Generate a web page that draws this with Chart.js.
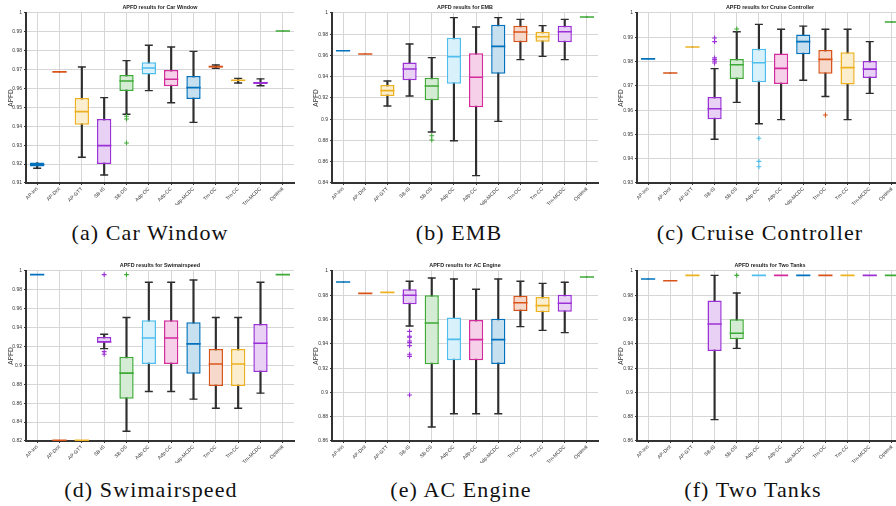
<!DOCTYPE html>
<html lang="en">
<head>
<meta charset="UTF-8">
<title>APFD results</title>
<script src="https://cdn.jsdelivr.net/npm/chart.js"></script>
<style>
    html, body { margin: 0; padding: 0; background: #fff; }
    body { width: 896px; height: 506px; position: relative; overflow: hidden; }
    .panel { position: absolute; width: 300px; height: 205px; }
    .caption {
        position: absolute;
        width: 300px;
        text-align: center;
        font-family: "Liberation Serif", "DejaVu Serif", serif;
        font-size: 22px;
        letter-spacing: 1.1px;
        color: #111;
    }
</style>
</head>
<body>
<div class="panel" style="left:0;top:0"><canvas id="chartA"></canvas></div>
<div class="panel" style="left:305px;top:0"><canvas id="chartB"></canvas></div>
<div class="panel" style="left:610px;top:0"><canvas id="chartC"></canvas></div>
<div class="panel" style="left:0;top:258px"><canvas id="chartD"></canvas></div>
<div class="panel" style="left:305px;top:258px"><canvas id="chartE"></canvas></div>
<div class="panel" style="left:610px;top:258px"><canvas id="chartF"></canvas></div>

<div class="caption" style="left:0;top:220px">(a) Car Window</div>
<div class="caption" style="left:309px;top:220px">(b) EMB</div>
<div class="caption" style="left:610px;top:220px">(c) Cruise Controller</div>
<div class="caption" style="left:1px;top:477px">(d) Swimairspeed</div>
<div class="caption" style="left:311px;top:477px">(e) AC Engine</div>
<div class="caption" style="left:603px;top:477px">(f) Two Tanks</div>

<script>
    const categories = ['AP-Ins', 'AP-Dist', 'AP-GTT', 'SB-IS', 'SB-OS', 'Adp-OC', 'Adp-CC', 'Adp-MCDC', 'Trn-OC', 'Trn-CC', 'Trn-MCDC', 'Optimal'];
    const catColors = ['#0072BD', '#D95319', '#EDB120', '#9B30D6', '#3DAA35', '#4DBEEE', '#D42A9C', '#0072BD', '#D95319', '#EDB120', '#9B30D6', '#3DAA35'];

    // Car Window
    const carWindowMin = [0.9178, 0.9688, 0.9236, 0.9142, 0.9464, 0.9589, 0.9525, 0.9421, 0.9707, 0.9629, 0.9615, 0.9905];
    const carWindowQ1  = [0.9187, 0.9688, 0.9409, 0.9201, 0.9587, 0.9675, 0.9612, 0.9545, 0.9711, 0.9638, 0.9624, 0.9905];
    const carWindowMed = [0.9197, 0.9688, 0.9478, 0.9298, 0.9640, 0.9709, 0.9649, 0.9605, 0.9716, 0.9644, 0.9631, 0.9905];
    const carWindowQ3  = [0.9208, 0.9688, 0.9550, 0.9439, 0.9672, 0.9739, 0.9698, 0.9667, 0.9721, 0.9647, 0.9636, 0.9905];
    const carWindowMax = [0.9208, 0.9688, 0.9714, 0.9552, 0.9748, 0.9829, 0.9820, 0.9797, 0.9725, 0.9654, 0.9651, 0.9905];
    const carWindowOut = [{x: 'SB-OS', y: 0.9453}, {x: 'SB-OS', y: 0.9439}, {x: 'SB-OS', y: 0.9312}];
    const carWindowTicks = [0.91, 0.92, 0.93, 0.94, 0.95, 0.96, 0.97, 0.98, 0.99, 1];

    // EMB
    const embMin = [0.9645, 0.9614, 0.9125, 0.9219, 0.8880, 0.8798, 0.8469, 0.8980, 0.9561, 0.9592, 0.9561, 0.9962];
    const embQ1  = [0.9645, 0.9614, 0.9219, 0.9366, 0.9178, 0.9335, 0.9112, 0.9429, 0.9724, 0.9730, 0.9724, 0.9962];
    const embMed = [0.9645, 0.9614, 0.9269, 0.9473, 0.9313, 0.9589, 0.9395, 0.9686, 0.9821, 0.9777, 0.9824, 0.9962];
    const embQ3  = [0.9645, 0.9614, 0.9322, 0.9533, 0.9391, 0.9768, 0.9620, 0.9890, 0.9881, 0.9824, 0.9881, 0.9962];
    const embMax = [0.9645, 0.9614, 0.9360, 0.9708, 0.9580, 0.9956, 0.9868, 0.9956, 0.9940, 0.9881, 0.9940, 0.9962];
    const embOut = [{x: 'SB-OS', y: 0.8845}, {x: 'SB-OS', y: 0.8805}];
    const embTicks = [0.84, 0.86, 0.88, 0.9, 0.92, 0.94, 0.96, 0.98, 1];

    // Cruise Controller
    const cruiseMin = [0.9811, 0.9753, 0.9860, 0.9480, 0.9632, 0.9544, 0.9561, 0.9723, 0.9656, 0.9561, 0.9669, 0.9963];
    const cruiseQ1  = [0.9811, 0.9753, 0.9860, 0.9562, 0.9728, 0.9715, 0.9708, 0.9830, 0.9750, 0.9706, 0.9732, 0.9963];
    const cruiseMed = [0.9811, 0.9753, 0.9860, 0.9606, 0.9787, 0.9795, 0.9772, 0.9882, 0.9809, 0.9775, 0.9769, 0.9963];
    const cruiseQ3  = [0.9811, 0.9753, 0.9860, 0.9654, 0.9811, 0.9853, 0.9833, 0.9911, 0.9848, 0.9838, 0.9802, 0.9963];
    const cruiseMax = [0.9811, 0.9753, 0.9860, 0.9771, 0.9923, 0.9953, 0.9933, 0.9946, 0.9933, 0.9933, 0.9882, 0.9963];
    const cruiseOut = [
        {x: 'SB-IS', y: 0.9897}, {x: 'SB-IS', y: 0.9882}, {x: 'SB-IS', y: 0.9815},
        {x: 'SB-IS', y: 0.9808}, {x: 'SB-IS', y: 0.9801}, {x: 'SB-IS', y: 0.9794},
        {x: 'SB-OS', y: 0.9934},
        {x: 'Adp-OC', y: 0.9484}, {x: 'Adp-OC', y: 0.9389}, {x: 'Adp-OC', y: 0.9367},
        {x: 'Trn-OC', y: 0.9580}
    ];
    const cruiseTicks = [0.93, 0.94, 0.95, 0.96, 0.97, 0.98, 0.99, 1];

    // Swimairspeed
    const swimMin = [0.9961, 0.8207, 0.8207, 0.9178, 0.8303, 0.8724, 0.8724, 0.8643, 0.8547, 0.8547, 0.8707, 0.9961];
    const swimQ1  = [0.9961, 0.8207, 0.8207, 0.9242, 0.8646, 0.9015, 0.9015, 0.8912, 0.8781, 0.8781, 0.8930, 0.9961];
    const swimMed = [0.9961, 0.8207, 0.8207, 0.9249, 0.8919, 0.9291, 0.9291, 0.9228, 0.9015, 0.9015, 0.9235, 0.9961];
    const swimQ3  = [0.9961, 0.8207, 0.8207, 0.9302, 0.9093, 0.9479, 0.9479, 0.9458, 0.9174, 0.9174, 0.9440, 0.9961];
    const swimMax = [0.9961, 0.8207, 0.8207, 0.9330, 0.9507, 0.9880, 0.9880, 0.9904, 0.9507, 0.9507, 0.9880, 0.9961];
    const swimOut = [{x: 'SB-IS', y: 0.9961}, {x: 'SB-IS', y: 0.9146}, {x: 'SB-IS', y: 0.9118}, {x: 'SB-OS', y: 0.9961}];
    const swimTicks = [0.82, 0.84, 0.86, 0.88, 0.9, 0.92, 0.94, 0.96, 0.98, 1];

    // AC Engine
    const acMin = [0.9909, 0.9816, 0.9824, 0.9547, 0.8715, 0.8825, 0.8825, 0.8825, 0.9542, 0.9511, 0.9492, 0.9951];
    const acQ1  = [0.9909, 0.9816, 0.9824, 0.9726, 0.9231, 0.9264, 0.9264, 0.9234, 0.9671, 0.9660, 0.9665, 0.9951];
    const acMed = [0.9909, 0.9816, 0.9824, 0.9800, 0.9572, 0.9437, 0.9435, 0.9435, 0.9739, 0.9715, 0.9734, 0.9951];
    const acQ3  = [0.9909, 0.9816, 0.9824, 0.9849, 0.9800, 0.9616, 0.9596, 0.9607, 0.9797, 0.9786, 0.9805, 0.9951];
    const acMax = [0.9909, 0.9816, 0.9824, 0.9915, 0.9942, 0.9934, 0.9849, 0.9934, 0.9915, 0.9898, 0.9907, 0.9951];
    const acOut = [
        {x: 'SB-IS', y: 0.9503}, {x: 'SB-IS', y: 0.9462}, {x: 'SB-IS', y: 0.9454},
        {x: 'SB-IS', y: 0.9424}, {x: 'SB-IS', y: 0.9410}, {x: 'SB-IS', y: 0.9385},
        {x: 'SB-IS', y: 0.9314}, {x: 'SB-IS', y: 0.9297}, {x: 'SB-IS', y: 0.8979}
    ];
    const acTicks = [0.86, 0.88, 0.9, 0.92, 0.94, 0.96, 0.98, 1];

    // Two Tanks
    const tanksMin = [0.9934, 0.9920, 0.9964, 0.8776, 0.9363, 0.9964, 0.9964, 0.9964, 0.9964, 0.9964, 0.9964, 0.9964];
    const tanksQ1  = [0.9934, 0.9920, 0.9964, 0.9341, 0.9437, 0.9964, 0.9964, 0.9964, 0.9964, 0.9964, 0.9964, 0.9964];
    const tanksMed = [0.9934, 0.9920, 0.9964, 0.9564, 0.9487, 0.9964, 0.9964, 0.9964, 0.9964, 0.9964, 0.9964, 0.9964];
    const tanksQ3  = [0.9934, 0.9920, 0.9964, 0.9756, 0.9602, 0.9964, 0.9964, 0.9964, 0.9964, 0.9964, 0.9964, 0.9964];
    const tanksMax = [0.9934, 0.9920, 0.9964, 0.9964, 0.9819, 0.9964, 0.9964, 0.9964, 0.9964, 0.9964, 0.9964, 0.9964];
    const tanksOut = [{x: 'SB-OS', y: 0.9964}];
    const tanksTicks = [0.86, 0.88, 0.9, 0.92, 0.94, 0.96, 0.98, 1];

    const BOX_FRACTION = 0.64;
    const WHISKER = '#2e2e2e';
    const GRID = '#d6d6d6';

    function tint(hex, a) {
        const n = parseInt(hex.slice(1), 16);
        const mix = c => Math.round(c * a + 255 * (1 - a));
        return `rgb(${mix(n >> 16)}, ${mix((n >> 8) & 255)}, ${mix(n & 255)})`;
    }

    function halfBox(chart) {
        return chart.scales.x.width / categories.length * BOX_FRACTION / 2;
    }

    function boxChart(id, title, mins, q1s, meds, q3s, maxs, outliers, yTicks, yw, pr) {
        const pointLayer = {type: 'line', showLine: false, pointHoverRadius: 0};
        return new Chart(document.getElementById(id), {
            type: 'bar',
            data: {
                labels: categories,
                datasets: [
                    {   // medians
                        ...pointLayer,
                        data: meds,
                        pointStyle: 'line',
                        pointRadius: ctx => halfBox(ctx.chart),
                        pointBorderColor: catColors,
                        pointBorderWidth: 1.6
                    },
                    {   // outliers
                        ...pointLayer,
                        data: outliers,
                        pointStyle: 'cross',
                        pointRadius: 2.4,
                        pointBorderWidth: 1.1,
                        pointBorderColor: ctx => catColors[categories.indexOf(ctx.raw.x)]
                    },
                    {   // upper caps
                        ...pointLayer,
                        data: maxs.map((v, i) => v > q3s[i] ? v : null),
                        pointStyle: 'line',
                        pointRadius: 4,
                        pointBorderColor: WHISKER,
                        pointBorderWidth: 1.4
                    },
                    {   // lower caps
                        ...pointLayer,
                        data: mins.map((v, i) => v < q1s[i] ? v : null),
                        pointStyle: 'line',
                        pointRadius: 4,
                        pointBorderColor: WHISKER,
                        pointBorderWidth: 1.4
                    },
                    {   // boxes
                        data: q1s.map((v, i) => [v, q3s[i]]),
                        backgroundColor: catColors.map(c => tint(c, 0.22)),
                        borderColor: catColors,
                        borderWidth: 1.5,
                        borderSkipped: false,
                        barPercentage: BOX_FRACTION,
                        categoryPercentage: 1,
                        grouped: false
                    },
                    {   // whiskers
                        data: mins.map((v, i) => [v, maxs[i]]),
                        backgroundColor: WHISKER,
                        barThickness: 1.5,
                        grouped: false
                    }
                ]
            },
            options: {
                responsive: true,
                maintainAspectRatio: false,
                animation: false,
                events: [],
                layout: { padding: { left: 0, right: pr, top: 0, bottom: 0 } },
                plugins: {
                    legend: { display: false },
                    tooltip: { enabled: false },
                    title: {
                        display: true,
                        text: title,
                        fullSize: false,
                        color: '#222',
                        font: { family: 'Liberation Sans', size: 5.4, weight: 'bold' },
                        padding: { top: 4, bottom: 2.5 }
                    }
                },
                scales: {
                    x: {
                        grid: { offset: false, color: GRID, tickLength: 2, tickColor: '#333' },
                        border: { color: '#333', width: 2 },
                        ticks: {
                            font: { family: 'Liberation Sans', size: 5 },
                            color: '#333',
                            minRotation: 45,
                            maxRotation: 45,
                            autoSkip: false,
                            padding: 1
                        },
                        afterFit: s => { s.height = 22; }
                    },
                    y: {
                        min: yTicks[0],
                        max: yTicks[yTicks.length - 1],
                        grid: { color: GRID, tickLength: 2, tickColor: '#333' },
                        border: { color: '#333', width: 2 },
                        title: {
                            display: true,
                            text: 'APFD',
                            color: '#333',
                            font: { family: 'Liberation Sans', size: 6.5 },
                            padding: { top: 7, bottom: 0 }
                        },
                        ticks: {
                            font: { family: 'Liberation Sans', size: 5 },
                            color: '#333',
                            padding: 2,
                            callback: v => String(+Number(v).toFixed(2))
                        },
                        afterBuildTicks: s => { s.ticks = yTicks.map(v => ({ value: v })); },
                        afterFit: s => { s.width = yw; }
                    }
                }
            }
        });
    }

    boxChart('chartA', 'APFD results for Car Window', carWindowMin, carWindowQ1, carWindowMed, carWindowQ3, carWindowMax, carWindowOut, carWindowTicks, 26, 6);
    boxChart('chartB', 'APFD results for EMB', embMin, embQ1, embMed, embQ3, embMax, embOut, embTicks, 27, 7);
    boxChart('chartC', 'APFD results for Cruise Controller', cruiseMin, cruiseQ1, cruiseMed, cruiseQ3, cruiseMax, cruiseOut, cruiseTicks, 27, 7);
    boxChart('chartD', 'APFD results for Swimairspeed', swimMin, swimQ1, swimMed, swimQ3, swimMax, swimOut, swimTicks, 26, 6);
    boxChart('chartE', 'APFD results for AC Engine', acMin, acQ1, acMed, acQ3, acMax, acOut, acTicks, 27, 7);
    boxChart('chartF', 'APFD results for Two Tanks', tanksMin, tanksQ1, tanksMed, tanksQ3, tanksMax, tanksOut, tanksTicks, 27, 7);
</script>
</body>
</html>
